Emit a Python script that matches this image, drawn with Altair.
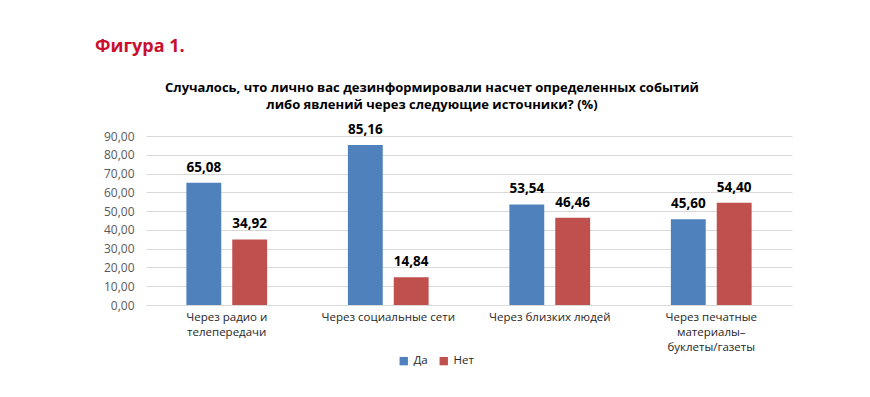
import altair as alt
import pandas as pd

categories = ["Через радио и|телепередачи", "Через социальные сети", "Через близких людей",
              "Через печатные|материалы–|буклеты/газеты"]
series = ["Да", "Нет"]
da_values = [65.08, 85.16, 53.54, 45.60]
net_values = [34.92, 14.84, 46.46, 54.40]
colors = ["#4f81bd", "#c0504d"]
heading = "Фигура 1."
question = ["Случалось, что лично вас дезинформировали насчет определенных событий",
            "либо явлений через следующие источники? (%)"]

rows = []
for c, d, n in zip(categories, da_values, net_values):
    rows.append({"cat": c, "series": "Да", "v": d})
    rows.append({"cat": c, "series": "Нет", "v": n})
df = pd.DataFrame(rows)

FONT = "Open Sans"

x = alt.X("cat:N", sort=categories, title=None,
          scale=alt.Scale(paddingInner=0.5, paddingOuter=0.25),
          axis=alt.Axis(labelAngle=0, ticks=False, domain=True, domainColor="#d9d9d9",
                        grid=False,
                        labelExpr="split(datum.label, '|')", labelFontSize=11.5,
                        labelColor="#262626", labelPadding=6, labelFont=FONT,
                        labelLineHeight=15, labelBaseline="top"))
xo = alt.XOffset("series:N", sort=series, scale=alt.Scale(paddingInner=0.24, paddingOuter=0))
y = alt.Y("v:Q", title=None, scale=alt.Scale(domain=[0, 90], nice=False),
          axis=alt.Axis(values=list(range(0, 100, 10)), ticks=False, domain=False,
                        labelExpr="replace(format(datum.value, '.2f'), '.', ',')",
                        labelColor="#595959", labelFontSize=12, labelFont=FONT,
                        labelPadding=12, gridColor="#d9d9d9"))

bars = alt.Chart(df).mark_bar().encode(
    x=x, xOffset=xo, y=y,
    color=alt.Color("series:N", sort=series, title=None,
                    scale=alt.Scale(domain=series, range=colors),
                    legend=alt.Legend(orient="none", legendX=252, legendY=219,
                                      direction="horizontal", symbolType="square",
                                      symbolSize=70, labelFontSize=11.5, labelFont=FONT,
                                      labelColor="#262626", columnPadding=10,
                                      symbolStrokeWidth=0)),
)

labels = alt.Chart(df).transform_calculate(
    lab="replace(format(datum.v, '.2f'), '.', ',')"
).mark_text(dy=-8, fontWeight="bold", fontSize=13.5, font=FONT, color="#000000",
            baseline="bottom").encode(
    x=x, xOffset=xo, y=y, text="lab:N")

fig = alt.Chart(pd.DataFrame({"t": [heading]})).mark_text(
    align="left", baseline="alphabetic", fontSize=18, fontWeight="bold",
    font=FONT, color="#c8102e").encode(
    x=alt.value(-51), y=alt.value(-84), text="t:N")

q = alt.Chart(pd.DataFrame({"t": [question]})).mark_text(
    align="center", baseline="alphabetic", fontSize=13, fontWeight="bold",
    font=FONT, color="#000000", lineHeight=17).encode(
    x=alt.value(286), y=alt.value(-44), text="t")

chart = alt.layer(bars, labels, fig, q).properties(
    width=646, height=169,
    padding={"left": 138, "top": 128, "right": 70, "bottom": 84},
    autosize=alt.AutoSizeParams(type="none"),
).configure(background="white", view=alt.ViewConfig(stroke=None))

chart.save("out.html", embed_options={"renderer": "svg", "actions": False})
